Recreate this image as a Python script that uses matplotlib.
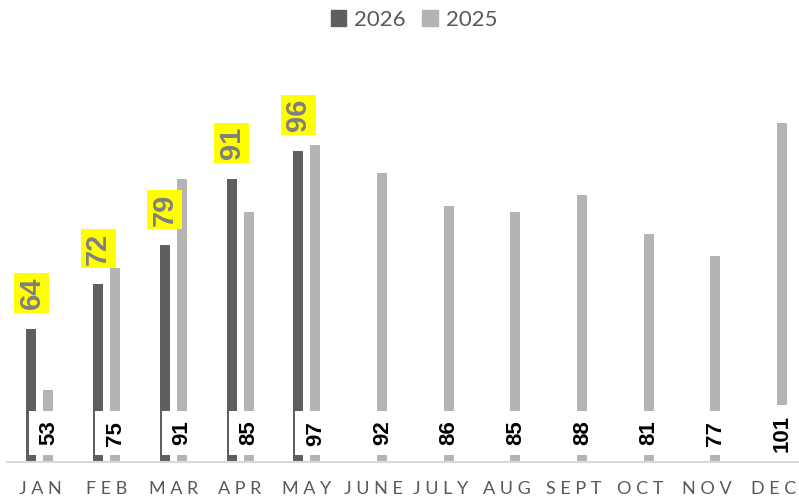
import numpy as np
import matplotlib
matplotlib.use("Agg")
import matplotlib.pyplot as plt
from matplotlib.patches import Patch

plt.rcParams['font.family'] = ['Lato', 'DejaVu Sans']

months = ["JAN", "FEB", "MAR", "APR", "MAY", "JUNE", "JULY", "AUG", "SEPT", "OCT", "NOV", "DEC"]
sales_2026 = [64, 72, 79, 91, 96]
sales_2025 = [53, 75, 91, 85, 97, 92, 86, 85, 88, 81, 77, 101]

dark = "#5f5f5f"
light = "#b4b4b4"
num_font = ['Liberation Sans', 'DejaVu Sans']
narrow_font = ['Liberation Sans Narrow', 'Liberation Sans', 'DejaVu Sans']

fig = plt.figure(figsize=(7.99, 5.01), dpi=100)
ax = fig.add_axes([0.0083, 0.0778, 1.0017, 0.822])

x = np.arange(len(months))
w = 0.15
off = 0.1275

x26 = x[:len(sales_2026)] - off
x25 = x + off
ax.bar(x26, sales_2026, width=w, color=dark, zorder=2)
ax.bar(x25, sales_2025, width=w, color=light, zorder=2)

ax.set_xlim(-0.5, 11.5)
ax.set_ylim(40, 114.1)

# 2026 labels: yellow boxes above bars
for xi, v in zip(x26, sales_2026):
    ax.annotate(str(v), (xi, v), xytext=(0, 14), textcoords="offset points",
                ha="center", va="bottom", rotation=90, fontsize=21,
                fontweight="bold", color="#808080", zorder=4, family=narrow_font,
                bbox=dict(boxstyle="square,pad=0.12", fc="#ffff00", ec="none"))

# 2025 labels: white boxes at the base
for xi, v in zip(x25, sales_2025):
    ax.text(xi + 0.005, 45.2, str(v), ha="center", va="center", rotation=90,
            fontsize=16, fontweight="bold", color="black", zorder=5, family=num_font,
            bbox=dict(boxstyle="square,pad=0.44", fc="white", ec="none"))

ax.set_xticks(x)
ax.set_xticklabels([" ".join(m) for m in months], fontsize=13, color="#595959")
ax.tick_params(axis="x", length=0, pad=14)
ax.set_yticks([])
for s in ["top", "left", "right"]:
    ax.spines[s].set_visible(False)
ax.spines["bottom"].set_color("#d9d9d9")
ax.spines["bottom"].set_linewidth(1.5)
ax.set_facecolor("none")

handles = [Patch(color=dark, label="2026"), Patch(color=light, label="2025")]
fig.legend(handles=handles, loc="center", bbox_to_anchor=(0.518, 0.96), ncol=2,
           frameon=False, fontsize=16, labelcolor="#595959",
           handlelength=0.7, handleheight=0.7, handletextpad=0.35, columnspacing=0.75)

fig.savefig("out.png", dpi=100)
